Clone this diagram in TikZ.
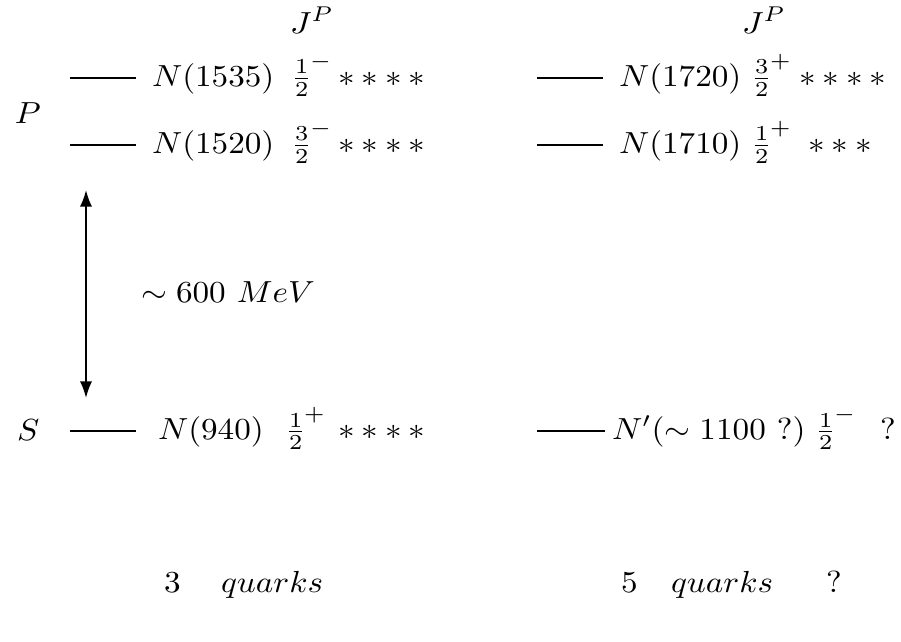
\documentclass[tikz,border=0pt]{standalone}
\usepackage{graphicx}
\usetikzlibrary{arrows.meta}
\newcommand{\sx}[1]{\scalebox{1.36}[1.25]{#1}}
\begin{document}
\begin{tikzpicture}[x=0.41pt,y=-0.41pt,
  txt/.style={anchor=base west,inner sep=0pt,outer sep=0pt},
  level/.style={line width=0.8pt},
  gap/.style={line width=0.8pt,{Latex[length=6.8pt,width=5pt]}-{Latex[length=6.8pt,width=5pt]}}]
\useasboundingbox (0,0) rectangle (901,641);
\nulldelimiterspace=0pt
\newcommand{\stars}[1]{{\ast}\foreach\i in {2,...,#1}{\kern2.1pt{\ast}}}
\newcommand{\jp}[2]{\frac{#1}{2}^{\kern0.6pt #2}\kern-\scriptspace}
% headers
\node[txt] (jl) at (290,33) {\sx{$J^P$}};
\node[txt] (jr) at (742,33) {\sx{$J^P$}};
\node[txt] (P) at (15,123) {\sx{$P$}};
\node[txt] (S) at (17,440) {\sx{$S$}};
% level lines
\draw[level] (70,78) -- (136,78);
\draw[level] (70,145) -- (136,145);
\draw[level] (70,431) -- (136,431);
\draw[level] (537,78) -- (603,78);
\draw[level] (537,145) -- (603,145);
\draw[level] (537,431) -- (605,431);
% left column
\node[txt] (a1) at (152,86) {\sx{$N(1535)$}};
\node[txt] (a1j) at (295,86) {\sx{$\jp{1}{-}$}};
\node[txt] (a1s) at (338,86) {\sx{$\stars{4}$}};
\node[txt] (a2) at (152,153) {\sx{$N(1520)$}};
\node[txt] (a2j) at (295,153) {\sx{$\jp{3}{-}$}};
\node[txt] (a2s) at (338,153) {\sx{$\stars{4}$}};
\node[txt] (a3) at (158,439) {\sx{$N(940)$}};
\node[txt] (a3j) at (289,439) {\sx{$\jp{1}{+}$}};
\node[txt] (a3s) at (338,439) {\sx{$\stars{4}$}};
% right column
\node[txt] (b1) at (619,86) {\sx{$N(1720)$}};
\node[txt] (b1j) at (755,86) {\sx{$\jp{3}{+}$}};
\node[txt] (b1s) at (799,86) {\sx{$\stars{4}$}};
\node[txt] (b2) at (619,153) {\sx{$N(1710)$}};
\node[txt] (b2j) at (755,153) {\sx{$\jp{1}{+}$}};
\node[txt] (b2s) at (808,153) {\sx{$\stars{3}$}};
\node[txt] (b3) at (612,439) {\sx{$N'(\sim 1100\ ?)$}};
\node[txt] (b3j) at (819,439) {\sx{$\jp{1}{-}$}};
\node[txt] (b3q) at (880,439) {\sx{$?$}};
% gap arrow
\coordinate (up) at (86,190);
\coordinate (dn) at (86,398);
\draw[gap] (up) -- (dn);
\node[txt] (mev) at (141,302) {\sx{$\sim 600\ MeV$}};
% bottom labels
\node[txt] (n3) at (164,592) {\sx{$3$}};
\node[txt] (q3) at (221,592) {\sx{$quarks$}};
\node[txt] (n5) at (621,592) {\sx{$5$}};
\node[txt] (q5) at (671,592) {\sx{$quarks$}};
\node[txt] (q5q) at (826,592) {\sx{$?$}};
\end{tikzpicture}
\end{document}
